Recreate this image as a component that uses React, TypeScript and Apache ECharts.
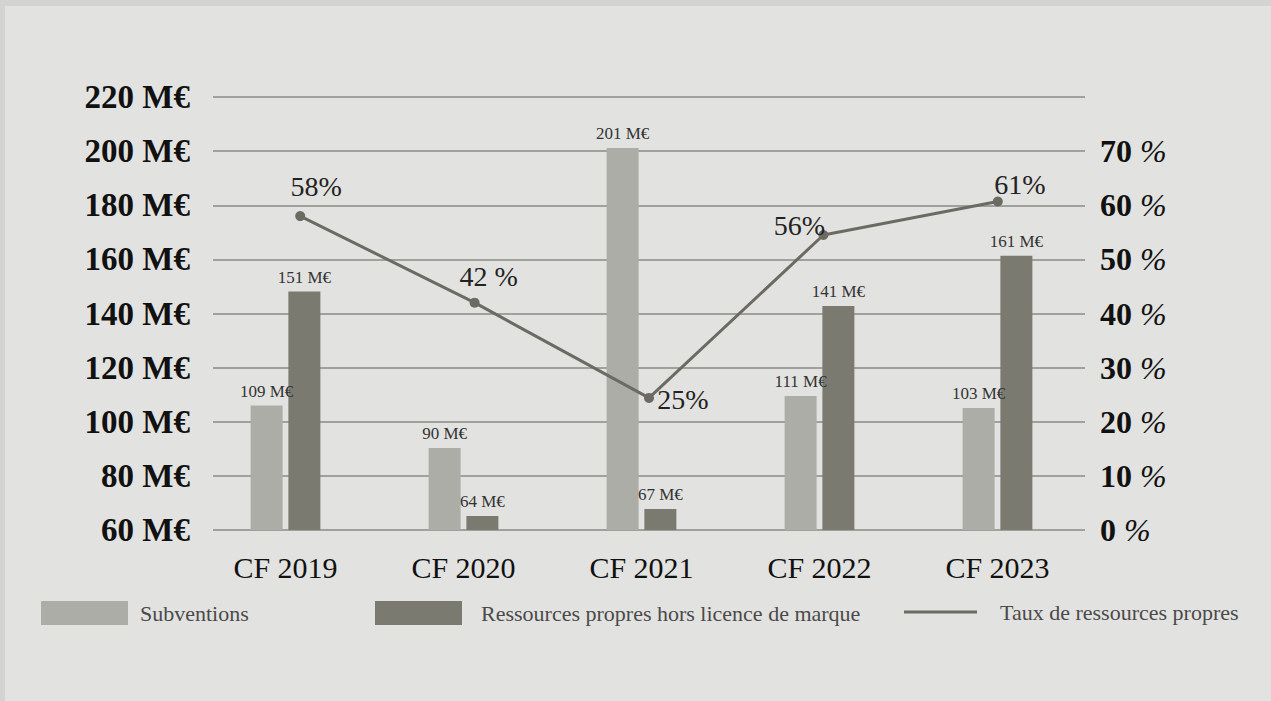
import React, { useEffect, useRef } from "react";
import * as echarts from "echarts";

const categories = ["CF 2019", "CF 2020", "CF 2021", "CF 2022", "CF 2023"];
const subventions = [106, 90.3, 201.2, 109.5, 105.1];
const subventionLabels = ["109 M€", "90 M€", "201 M€", "111 M€", "103 M€"];
const ressources = [148.1, 65.2, 67.8, 142.8, 161.3];
const ressourceLabels = ["151 M€", "64 M€", "67 M€", "141 M€", "161 M€"];
const taux = [58, 42, 24.4, 54.5, 60.7];
const tauxLabels = ["58%", "42 %", "25%", "56%", "61%"];
const leftMin = 60;
const leftMax = 220;
const leftInterval = 20;
const rightMin = 0;
const rightMax = 80;
const rightInterval = 10;
const hiddenRightTick = 80;

const FONT = "'Liberation Serif', 'Times New Roman', serif";
const tauxLabelOffsets: [number, number][] = [
  [16, -30],
  [14, -26],
  [34, 2],
  [-24, -10],
  [22, -17],
];

export default function App() {
  const ref = useRef<HTMLDivElement>(null);
  useEffect(() => {
    if (!ref.current) return;
    const chart = echarts.init(ref.current, undefined, { renderer: "svg" });
    const legendText = { fontSize: 22, color: "#4a4a4a", fontFamily: FONT };
    const option: any = {
      animation: false,
      backgroundColor: "#e2e2e0",
      textStyle: { fontFamily: FONT },
      graphic: [
        { type: "rect", shape: { x: 0, y: 0, width: 1271, height: 6 }, style: { fill: "#d3d3d1" } },
        { type: "rect", shape: { x: 0, y: 0, width: 5, height: 701 }, style: { fill: "#d3d3d1" } },
      ],
      grid: [
        { left: 213, right: 186, top: 97, bottom: 171 },
        { left: 196.5, right: 184.5, top: 97, bottom: 171 },
      ],
      xAxis: [
        { type: "category", gridIndex: 0, data: categories, show: false },
        {
          type: "category",
          gridIndex: 1,
          data: categories,
          axisLine: { show: false },
          axisTick: { show: false },
          axisLabel: { fontSize: 30, color: "#111", margin: 22, fontFamily: FONT },
        },
      ],
      yAxis: [
        {
          type: "value",
          gridIndex: 0,
          position: "left",
          min: leftMin,
          max: leftMax,
          interval: leftInterval,
          axisLine: { show: false },
          axisTick: { show: false },
          splitLine: { show: true, lineStyle: { color: "#8a8a86", width: 1.5 } },
          axisLabel: {
            formatter: (v: number) => `${v} M€`,
            fontSize: 33,
            fontWeight: "bold",
            color: "#111",
            margin: 23,
            fontFamily: FONT,
          },
        },
        {
          type: "value",
          gridIndex: 0,
          position: "right",
          min: rightMin,
          max: rightMax,
          interval: rightInterval,
          axisLine: { show: false },
          axisTick: { show: false },
          splitLine: { show: false },
          axisLabel: {
            formatter: (v: number) => (v === hiddenRightTick ? "" : `{b|${v}}{i| %}`),
            margin: 15,
            rich: {
              b: { fontSize: 32, fontWeight: "bold", color: "#111", fontFamily: FONT },
              i: { fontSize: 32, fontStyle: "italic", color: "#111", fontFamily: FONT },
            },
          },
        },
        { type: "value", gridIndex: 1, min: leftMin, max: leftMax, interval: leftInterval, show: false, splitLine: { show: false } },
        { type: "value", gridIndex: 1, min: rightMin, max: rightMax, interval: rightInterval, show: false, splitLine: { show: false } },
      ],
      legend: [
        {
          data: ["Subventions"],
          left: 41,
          top: 601,
          padding: 0,
          itemWidth: 87,
          itemHeight: 24,
          icon: "rect",
          textStyle: { ...legendText, padding: [0, 0, 0, 7] },
        },
        {
          data: ["Ressources propres hors licence de marque"],
          left: 375,
          top: 601,
          padding: 0,
          itemWidth: 87,
          itemHeight: 24,
          icon: "rect",
          textStyle: { ...legendText, padding: [0, 0, 0, 14] },
        },
        {
          data: ["Taux de ressources propres"],
          left: 904,
          top: 601,
          padding: 0,
          itemWidth: 73,
          itemHeight: 24,
          icon: "path://M0,0L73,0L73,3L0,3Z",
          textStyle: { ...legendText, padding: [0, 0, 0, 18] },
        },
      ],
      series: [
        {
          name: "Subventions",
          type: "bar",
          xAxisIndex: 1,
          yAxisIndex: 2,
          data: subventions,
          barWidth: 32,
          barGap: "18%",
          itemStyle: { color: "#adada8" },
          label: {
            show: true,
            position: "top",
            distance: 6,
            formatter: (p: any) => subventionLabels[p.dataIndex],
            fontSize: 17,
            color: "#333",
            fontFamily: FONT,
          },
        },
        {
          name: "Ressources propres hors licence de marque",
          type: "bar",
          xAxisIndex: 1,
          yAxisIndex: 2,
          data: ressources,
          barWidth: 32,
          itemStyle: { color: "#7a7a71" },
          label: {
            show: true,
            position: "top",
            distance: 6,
            formatter: (p: any) => ressourceLabels[p.dataIndex],
            fontSize: 17,
            color: "#333",
            fontFamily: FONT,
          },
        },
        {
          name: "Taux de ressources propres",
          type: "line",
          xAxisIndex: 0,
          yAxisIndex: 1,
          data: taux.map((v, i) => ({
            value: v,
            label: { offset: tauxLabelOffsets[i] },
          })),
          symbol: "circle",
          symbolSize: 10,
          lineStyle: { color: "#6b6b63", width: 3 },
          itemStyle: { color: "#6b6b63" },
          label: {
            show: true,
            position: "inside",
            align: "center",
            verticalAlign: "middle",
            formatter: (p: any) => tauxLabels[p.dataIndex],
            fontSize: 28,
            color: "#222",
            fontFamily: FONT,
          },
          z: 5,
        },
      ],
    };
    chart.setOption(option);
    return () => chart.dispose();
  }, []);
  return (
    <div
      ref={ref}
      style={{ position: "absolute", left: 0, top: 0, width: 1271, height: 701 }}
    />
  );
}
